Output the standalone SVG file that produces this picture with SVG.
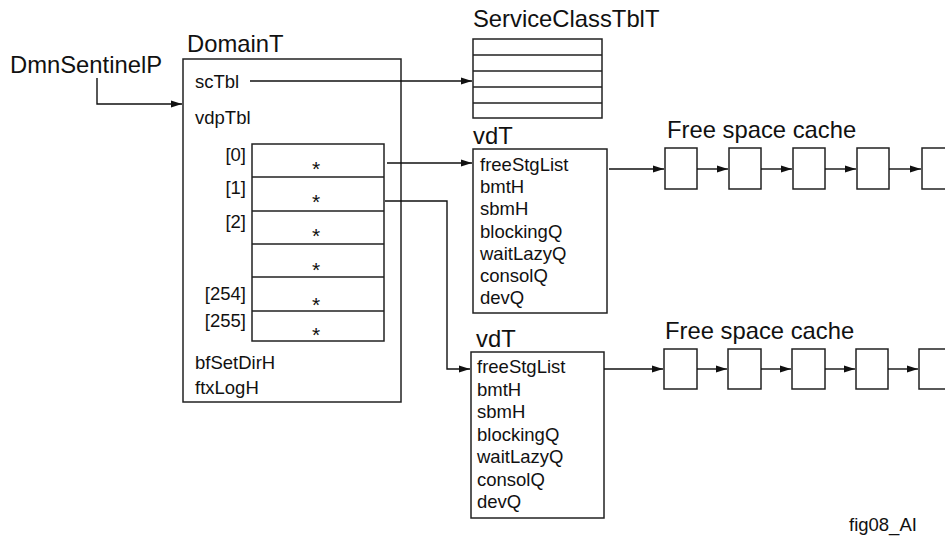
<svg xmlns="http://www.w3.org/2000/svg" width="945" height="542" viewBox="0 0 945 542">
<style>
text{font-family:"Liberation Sans",Arial,Helvetica,sans-serif;fill:#111}
.t{font-size:23.8px}
.f{font-size:18.5px}
.s{font-size:21px;text-anchor:middle}
.r{text-anchor:end}
.box{fill:#fff;stroke:#222;stroke-width:1.5}
.ln{fill:none;stroke:#222;stroke-width:1.5}
.c{fill:none;stroke:#111;stroke-width:1.4}
</style>
<defs>
<marker id="ah" markerWidth="12" markerHeight="8" refX="11" refY="4" orient="auto" markerUnits="userSpaceOnUse">
<path d="M0,0.5 L11,4 L0,7.5 z" fill="#111"/>
</marker>
</defs>
<rect width="945" height="542" fill="#fff"/>

<g id="sentinel">
<text class="t" x="10" y="73">DmnSentinelP</text>
</g>

<g id="domainT">
<text class="t" x="187" y="52">DomainT</text>
<rect class="box" x="183" y="59" width="218" height="343"/>
<text class="f" x="195" y="88">scTbl</text>
<text class="f" x="195" y="124">vdpTbl</text>
<text class="f" x="195" y="369">bfSetDirH</text>
<text class="f" x="195" y="394">ftxLogH</text>
</g>

<g id="vdpArray">
<rect class="box" x="252" y="144" width="132" height="197"/>
<path class="ln" d="M252 177H384M252 211H384M252 244H384M252 277H384M252 311H384"/>
<text class="f r" x="246" y="161">[0]</text>
<text class="f r" x="246" y="194">[1]</text>
<text class="f r" x="246" y="228">[2]</text>
<text class="f r" x="246" y="300">[254]</text>
<text class="f r" x="246" y="327">[255]</text>
<text class="s" x="316" y="176">*</text>
<text class="s" x="316" y="209">*</text>
<text class="s" x="316" y="243">*</text>
<text class="s" x="316" y="277">*</text>
<text class="s" x="316" y="312">*</text>
<text class="s" x="316" y="342">*</text>
</g>

<g id="serviceClassTbl">
<text class="t" x="473" y="27">ServiceClassTblT</text>
<rect class="box" x="473" y="39" width="129" height="79"/>
<path class="ln" d="M473 55H602M473 71H602M473 87H602M473 103H602"/>
</g>

<g id="vdT1">
<text class="t" x="473" y="144">vdT</text>
<rect class="box" x="473" y="149" width="134" height="164"/>
<text class="f" x="480" y="171">freeStgList</text>
<text class="f" x="480" y="193">bmtH</text>
<text class="f" x="480" y="215">sbmH</text>
<text class="f" x="480" y="238">blockingQ</text>
<text class="f" x="480" y="260">waitLazyQ</text>
<text class="f" x="480" y="282">consolQ</text>
<text class="f" x="480" y="304">devQ</text>
</g>

<g id="vdT2">
<text class="t" x="476" y="347">vdT</text>
<rect class="box" x="471" y="352" width="133" height="166"/>
<text class="f" x="477" y="373">freeStgList</text>
<text class="f" x="477" y="396">bmtH</text>
<text class="f" x="477" y="418">sbmH</text>
<text class="f" x="477" y="441">blockingQ</text>
<text class="f" x="477" y="463">waitLazyQ</text>
<text class="f" x="477" y="486">consolQ</text>
<text class="f" x="477" y="508">devQ</text>
</g>

<g id="cache1">
<text class="t" x="667" y="138">Free space cache</text>
<rect class="box" x="665" y="148" width="32" height="41"/>
<rect class="box" x="729" y="148" width="32" height="41"/>
<rect class="box" x="793" y="148" width="32" height="41"/>
<rect class="box" x="857" y="148" width="32" height="41"/>
<rect class="box" x="922" y="148" width="32" height="41"/>
</g>

<g id="cache2">
<text class="t" x="665" y="339">Free space cache</text>
<rect class="box" x="664" y="349" width="33" height="40"/>
<rect class="box" x="728" y="349" width="33" height="40"/>
<rect class="box" x="792" y="349" width="33" height="40"/>
<rect class="box" x="856" y="349" width="32" height="40"/>
<rect class="box" x="919" y="349" width="32" height="40"/>
</g>

<g id="fig">
<text class="f" x="849" y="531">fig08_AI</text>
</g>

<g id="connectors">
<path class="c" d="M97 78V104H182" marker-end="url(#ah)"/>
<path class="c" d="M250 81H472" marker-end="url(#ah)"/>
<path class="c" d="M387 163H472" marker-end="url(#ah)"/>
<path class="c" d="M385 201H447V369H470" marker-end="url(#ah)"/>
<path class="c" d="M609 169H664" marker-end="url(#ah)"/>
<path class="c" d="M697 169H728" marker-end="url(#ah)"/>
<path class="c" d="M761 169H792" marker-end="url(#ah)"/>
<path class="c" d="M825 169H856" marker-end="url(#ah)"/>
<path class="c" d="M889 169H921" marker-end="url(#ah)"/>
<path class="c" d="M604 369H663" marker-end="url(#ah)"/>
<path class="c" d="M697 369H727" marker-end="url(#ah)"/>
<path class="c" d="M761 369H791" marker-end="url(#ah)"/>
<path class="c" d="M825 369H855" marker-end="url(#ah)"/>
<path class="c" d="M888 369H918" marker-end="url(#ah)"/>
</g>
</svg>
